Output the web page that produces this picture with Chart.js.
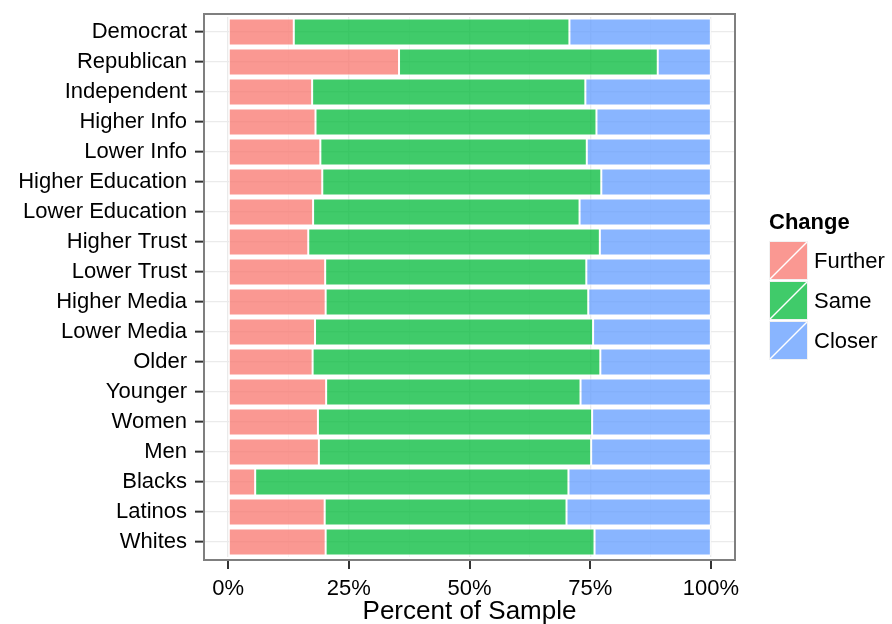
<!DOCTYPE html>
<html>
<head>
<meta charset="utf-8">
<script src="https://cdn.jsdelivr.net/npm/chart.js@4/dist/chart.umd.min.js"></script>
<style>
  html, body { margin: 0; padding: 0; background: #fff; }
  #chart { display: block; }
</style>
</head>
<body>
<canvas id="chart" width="892" height="624"></canvas>
<script>
const groups = ['Democrat', 'Republican', 'Independent', 'Higher Info', 'Lower Info',
    'Higher Education', 'Lower Education', 'Higher Trust', 'Lower Trust', 'Higher Media',
    'Lower Media', 'Older', 'Younger', 'Women', 'Men', 'Blacks', 'Latinos', 'Whites'];
const further = [13.6, 35.4, 17.4, 18.1, 19.1, 19.5, 17.6, 16.6, 20.1, 20.2, 18.0, 17.5, 20.3, 18.6, 18.8, 5.6, 20.0, 20.2];
const same = [57.1, 53.6, 56.6, 58.2, 55.2, 57.8, 55.2, 60.4, 54.1, 54.4, 57.6, 59.6, 52.7, 56.8, 56.4, 64.9, 50.1, 55.7];
const closer = [29.3, 11.0, 26.0, 23.7, 25.7, 22.7, 27.2, 23.0, 25.8, 25.4, 24.4, 22.9, 27.0, 24.6, 24.8, 29.5, 29.9, 24.1];
const xTicks = [0, 12.5, 25, 37.5, 50, 62.5, 75, 87.5, 100];
const seriesNames = ['Further', 'Same', 'Closer'];
const seriesColors = ['rgba(248,118,109,0.75)', 'rgba(0,186,56,0.75)', 'rgba(97,156,255,0.75)'];
const legendTitle = 'Change';

const fontFamily = "'Liberation Sans', Arial, sans-serif";
Chart.defaults.font.family = fontFamily;
Chart.defaults.color = '#000';

// ggplot style panel border, x tick marks and the legend
const panelPlugin = {
    id: 'panel',
    afterDraw(chart) {
        const ctx = chart.ctx;
        const area = chart.chartArea;
        const xScale = chart.scales.x;
        const yScale = chart.scales.y;
        const step = Math.abs(yScale.getPixelForValue(1) - yScale.getPixelForValue(0));
        const pad = step * 0.1;
        const top = area.top - pad;
        const bottom = area.bottom + pad;

        ctx.save();
        ctx.strokeStyle = '#333';
        ctx.lineWidth = 2;
        xTicks.filter(v => v % 25 === 0).forEach(v => {
            const x = Math.round(xScale.getPixelForValue(v));
            ctx.beginPath();
            ctx.moveTo(x, bottom);
            ctx.lineTo(x, bottom + 9);
            ctx.stroke();
        });

        ctx.strokeStyle = '#7f7f7f';
        ctx.lineWidth = 2;
        ctx.strokeRect(area.left, top, area.right - area.left, bottom - top);

        // legend
        const lx = area.right + 34;
        ctx.fillStyle = '#000';
        ctx.textBaseline = 'middle';
        ctx.textAlign = 'left';
        ctx.font = "bold 22px " + fontFamily;
        ctx.fillText(legendTitle, lx, 223);
        const ly = 241;
        const key = 39;
        chart.data.datasets.forEach((ds, i) => {
            const ky = ly + i * (key + 1);
            ctx.fillStyle = '#fff';
            ctx.fillRect(lx, ky, key, key);
            ctx.fillStyle = ds.backgroundColor;
            ctx.fillRect(lx + 1, ky + 1, key - 2, key - 2);
            ctx.strokeStyle = '#f2f2f2';
            ctx.lineWidth = 1;
            ctx.strokeRect(lx + 0.5, ky + 0.5, key - 1, key - 1);
            ctx.strokeStyle = '#fff';
            ctx.lineWidth = 1.5;
            ctx.beginPath();
            ctx.moveTo(lx + 1, ky + key - 1);
            ctx.lineTo(lx + key - 1, ky + 1);
            ctx.stroke();
            ctx.fillStyle = '#000';
            ctx.font = "22px " + fontFamily;
            ctx.fillText(ds.label, lx + key + 6, ky + key / 2 + 1);
        });
        ctx.restore();
    }
};

const seriesData = [further, same, closer];
const datasets = seriesNames.map((name, i) => ({
    label: name,
    data: seriesData[i],
    backgroundColor: seriesColors[i],
    borderColor: '#fff',
    borderWidth: 1,
    borderSkipped: false,
    barPercentage: 0.9,
    categoryPercentage: 1.0
}));

new Chart(document.getElementById('chart').getContext('2d'), {
    type: 'bar',
    data: { labels: groups, datasets: datasets },
    options: {
        indexAxis: 'y',
        responsive: false,
        animation: false,
        layout: { padding: { top: 17, right: 157, bottom: 0, left: 0 } },
        plugins: {
            legend: { display: false },
            tooltip: { enabled: false }
        },
        scales: {
            x: {
                stacked: true,
                min: -5,
                max: 105,
                afterBuildTicks: (scale) => {
                    scale.ticks = xTicks.map(v => ({ value: v }));
                },
                afterFit: (scale) => {
                    scale.height = 67;
                    scale.paddingLeft = 0;
                    scale.paddingRight = 0;
                },
                border: { display: false },
                grid: {
                    drawTicks: true,
                    tickLength: 9,
                    tickColor: 'rgba(0,0,0,0)',
                    color: (c) => (c.tick && c.tick.value % 25 === 0) ? '#ebebeb' : '#f4f4f4',
                    lineWidth: (c) => (c.tick && c.tick.value % 25 === 0) ? 1.3 : 0.8
                },
                ticks: {
                    autoSkip: false,
                    maxRotation: 0,
                    padding: 10,
                    font: { size: 22 },
                    color: '#000',
                    callback: (v) => v % 25 === 0 ? v + '%' : ''
                },
                title: {
                    display: true,
                    text: 'Percent of Sample',
                    font: { size: 26 },
                    color: '#000',
                    padding: { top: 0, bottom: -3 }
                }
            },
            y: {
                stacked: true,
                afterFit: (scale) => {
                    scale.width = 204;
                    scale.paddingTop = 0;
                    scale.paddingBottom = 0;
                },
                border: { display: false },
                grid: {
                    offset: false,
                    color: '#ebebeb',
                    lineWidth: 1.3,
                    drawTicks: true,
                    tickLength: 9,
                    tickWidth: 2,
                    tickColor: '#333'
                },
                ticks: {
                    padding: 8,
                    font: { size: 22 },
                    color: '#000'
                }
            }
        }
    },
    plugins: [panelPlugin]
});
</script>
</body>
</html>
